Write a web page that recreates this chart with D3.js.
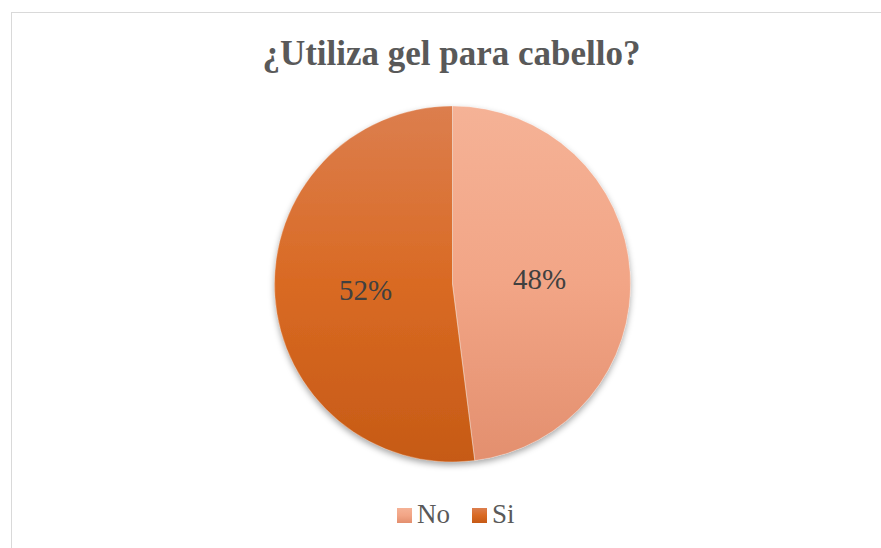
<!DOCTYPE html>
<html>
<head>
<meta charset="utf-8">
<script src="https://cdn.jsdelivr.net/npm/d3@7"></script>
<style>
  html, body { margin: 0; padding: 0; background: #fff; }
  svg { display: block; }
</style>
</head>
<body>
<svg id="chart" width="881" height="548"></svg>
<script>
// Survey answers and their shares
const categories = ["No", "Si"];
const shares = [48, 52];
const title = "¿Utiliza gel para cabello?";

// Vertical gradient stops (top, middle, bottom) for each slice
const sliceTopColors = ["#F5B296", "#DC7E4E"];
const sliceMidColors = ["#F2A586", "#D96A23"];
const sliceBottomColors = ["#E38F6E", "#C65A16"];

const FONT = "'Liberation Serif', 'Times New Roman', Tinos, 'DejaVu Serif', serif";
const W = 881, H = 548;
const cx = 452.5, cy = 284, r = 178;

const svg = d3.select("#chart");
const defs = svg.append("defs");

// Soft shadow under the pie
const shadow = defs.append("filter")
  .attr("id", "pieShadow")
  .attr("x", "-10%").attr("y", "-10%")
  .attr("width", "120%").attr("height", "125%");
shadow.append("feDropShadow")
  .attr("dx", 0).attr("dy", 3)
  .attr("stdDeviation", 3)
  .attr("flood-color", "#000")
  .attr("flood-opacity", 0.35);

// Slice gradients in pie-local coordinates, legend gradients per box
categories.forEach((c, i) => {
  const g = defs.append("linearGradient")
    .attr("id", "gradP" + i)
    .attr("gradientUnits", "userSpaceOnUse")
    .attr("x1", 0).attr("x2", 0)
    .attr("y1", -r).attr("y2", r);
  g.append("stop").attr("offset", "0%").attr("stop-color", sliceTopColors[i]);
  g.append("stop").attr("offset", "50%").attr("stop-color", sliceMidColors[i]);
  g.append("stop").attr("offset", "100%").attr("stop-color", sliceBottomColors[i]);

  const lg = defs.append("linearGradient")
    .attr("id", "legGrad" + i)
    .attr("x1", 0).attr("x2", 0).attr("y1", 0).attr("y2", 1);
  lg.append("stop").attr("offset", "0%").attr("stop-color", sliceTopColors[i]);
  lg.append("stop").attr("offset", "50%").attr("stop-color", sliceMidColors[i]);
  lg.append("stop").attr("offset", "100%").attr("stop-color", sliceBottomColors[i]);
});

// Chart frame
svg.append("rect")
  .attr("x", 11.5).attr("y", 12.5)
  .attr("width", W + 20).attr("height", H + 20)
  .attr("fill", "#fff")
  .attr("stroke", "#D9D9D9")
  .attr("stroke-width", 1);

// Title
svg.append("text")
  .attr("x", cx - 1)
  .attr("y", 65)
  .attr("text-anchor", "middle")
  .style("font-family", FONT)
  .attr("font-size", 35)
  .attr("font-weight", "bold")
  .attr("fill", "#595959")
  .text(title);

// Pie
const data = categories.map((c, i) => ({ cat: c, value: shares[i], idx: i }));
const pie = d3.pie().sort(null).value(d => d.value);
const arcs = pie(data);
const arc = d3.arc().innerRadius(0).outerRadius(r);
const labelArc = d3.arc().innerRadius(r * 0.49).outerRadius(r * 0.49);

const pg = svg.append("g").attr("transform", `translate(${cx},${cy})`);
pg.append("g")
  .attr("filter", "url(#pieShadow)")
  .selectAll("path")
  .data(arcs)
  .join("path")
  .attr("d", arc)
  .attr("fill", d => `url(#gradP${d.data.idx})`);

// Thin light separator between slices
pg.append("g")
  .selectAll("path")
  .data(arcs)
  .join("path")
  .attr("d", arc)
  .attr("fill", "none")
  .attr("stroke", "rgba(255,255,255,0.35)")
  .attr("stroke-width", 0.8);

// Percent labels
pg.selectAll("text.val")
  .data(arcs)
  .join("text")
  .attr("class", "val")
  .attr("x", d => labelArc.centroid(d)[0])
  .attr("y", d => labelArc.centroid(d)[1])
  .attr("dy", "0.35em")
  .attr("text-anchor", "middle")
  .style("font-family", FONT)
  .attr("font-size", 29)
  .attr("fill", "#404040")
  .text(d => d.data.value + "%");

// Legend
const legendX = [397, 472];
const lg = svg.append("g");
categories.forEach((c, i) => {
  lg.append("rect")
    .attr("x", legendX[i]).attr("y", 508)
    .attr("width", 15).attr("height", 15)
    .attr("fill", `url(#legGrad${i})`);
  lg.append("text")
    .attr("x", legendX[i] + 20)
    .attr("y", 523)
    .style("font-family", FONT)
    .attr("font-size", 27)
    .attr("fill", "#595959")
    .text(c);
});
</script>
</body>
</html>
